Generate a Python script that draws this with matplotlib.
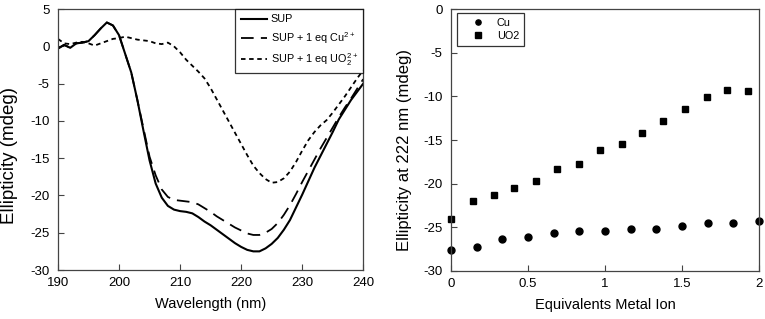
import matplotlib
matplotlib.use("Agg")
import matplotlib.pyplot as plt

plt.rcParams['font.family'] = ['Liberation Sans', 'DejaVu Sans']
plt.rcParams['mathtext.fontset'] = 'custom'
plt.rcParams['mathtext.rm'] = 'Liberation Sans'
plt.rcParams['axes.unicode_minus'] = False

# CD spectra (wavelength in nm, ellipticity in mdeg)
wl = [190, 191, 192, 193, 194, 195, 196, 197, 198, 199, 200, 201, 202, 203, 204,
      205, 206, 207, 208, 209, 210, 211, 212, 213, 214, 215, 216, 217, 218, 219,
      220, 221, 222, 223, 224, 225, 226, 227, 228, 229, 230, 231, 232, 233, 234,
      235, 236, 237, 238, 239, 240]
sup = [-0.3, 0.2, -0.2, 0.4, 0.5, 0.7, 1.5, 2.4, 3.2, 2.8, 1.5, -1.0, -3.5, -7.2, -11.3,
       -15.3, -18.4, -20.3, -21.4, -21.9, -22.1, -22.2, -22.4, -22.9, -23.5, -24.0, -24.6, -25.2, -25.8, -26.4,
       -26.9, -27.3, -27.5, -27.5, -27.1, -26.5, -25.7, -24.6, -23.3, -21.6, -19.9, -18.1, -16.3, -14.7, -13.1,
       -11.5, -9.8, -8.5, -7.2, -6.1, -5.0]
cu = [-0.3, 0.2, -0.2, 0.4, 0.5, 0.7, 1.5, 2.4, 3.2, 2.8, 1.5, -1.0, -3.5, -7.2, -11.0,
      -14.8, -17.3, -19.2, -20.2, -20.6, -20.7, -20.8, -20.9, -21.2, -21.7, -22.2, -22.8, -23.3, -23.8, -24.3,
      -24.7, -25.1, -25.3, -25.3, -25.0, -24.5, -23.7, -22.6, -21.3, -19.8, -18.2, -16.7, -15.2, -13.7, -12.3,
      -10.9, -9.5, -8.2, -7.0, -5.7, -4.4]
uo2 = [1.0, 0.4, 0.3, 0.5, 0.6, 0.4, 0.1, 0.4, 0.7, 1.0, 1.1, 1.3, 1.1, 0.9, 0.8,
       0.7, 0.4, 0.3, 0.5, 0.0, -0.8, -1.8, -2.6, -3.4, -4.3, -5.6, -7.1, -8.6, -10.1, -11.6,
       -13.1, -14.6, -16.0, -17.0, -17.8, -18.3, -18.2, -17.7, -16.8, -15.5, -14.0, -12.6, -11.5, -10.6, -9.9,
       -8.9, -7.8, -6.7, -5.5, -4.3, -3.2]

# titration at 222 nm
eq_cu = [0, 0.167, 0.333, 0.5, 0.667, 0.833, 1.0, 1.167, 1.333, 1.5, 1.667, 1.833, 2.0]
ell_cu = [-27.6, -27.2, -26.3, -26.1, -25.7, -25.4, -25.4, -25.2, -25.2, -24.9, -24.5, -24.5, -24.3]
eq_uo2 = [0, 0.14, 0.28, 0.41, 0.55, 0.69, 0.83, 0.97, 1.11, 1.24, 1.38, 1.52, 1.66, 1.79, 1.93]
ell_uo2 = [-24.1, -22.0, -21.3, -20.5, -19.7, -18.3, -17.7, -16.1, -15.5, -14.2, -12.8, -11.4, -10.1, -9.3, -9.4]

fig = plt.figure(figsize=(7.65, 3.19), dpi=100)
ax1 = fig.add_axes([0.0758, 0.1536, 0.399, 0.818])
ax2 = fig.add_axes([0.5895, 0.1505, 0.4026, 0.821])

frame_col = '#444444'
for ax in (ax1, ax2):
    for s in ax.spines.values():
        s.set_color(frame_col)
        s.set_linewidth(0.9)
    ax.tick_params(direction='in', length=4, width=0.8, color=frame_col,
                   labelsize=9.5)
    ax.tick_params(axis='y', pad=6)
    ax.tick_params(axis='x', pad=5)

ax1.plot(wl, sup, color='black', lw=1.5, label='SUP')
ax1.plot(wl, cu, color='black', lw=1.3, dashes=(7, 4), label='SUP + 1 eq Cu$^{2+}$')
ax1.plot(wl, uo2, color='black', lw=1.3, dashes=(2.5, 2), label='SUP + 1 eq UO$_2^{2+}$')
ax1.set_xlim(190, 240)
ax1.set_ylim(-30, 5)
ax1.set_xticks(range(190, 241, 10))
ax1.set_yticks(range(-30, 6, 5))
ax1.set_xlabel('Wavelength (nm)', fontsize=10.5)
ax1.set_ylabel('Ellipticity (mdeg)', fontsize=13.5)
ax1.xaxis.set_label_coords(0.5, -0.105)
ax1.yaxis.set_label_coords(-0.131, 0.437)
leg1 = ax1.legend(loc='upper right', fontsize=7.8, frameon=True, fancybox=False,
                  borderaxespad=0, handlelength=2.4, handletextpad=0.35,
                  borderpad=0.5, labelspacing=0.5)
leg1.get_frame().set_edgecolor('black')
leg1.get_frame().set_linewidth(0.9)

ax2.plot(eq_cu, ell_cu, 'o', color='black', ms=5, label='Cu', clip_on=False)
ax2.plot(eq_uo2, ell_uo2, 's', color='black', ms=5, label='UO2', clip_on=False)
ax2.set_xlim(0, 2)
ax2.set_ylim(-30, 0)
ax2.set_xticks([0, 0.5, 1, 1.5, 2])
ax2.set_xticklabels(['0', '0.5', '1', '1.5', '2'])
ax2.set_yticks(range(-30, 1, 5))
ax2.set_xlabel('Equivalents Metal Ion', fontsize=10.5)
ax2.set_ylabel('Ellipticity at 222 nm (mdeg)', fontsize=12)
ax2.xaxis.set_label_coords(0.5, -0.105)
ax2.yaxis.set_label_coords(-0.127, 0.462)
leg2 = ax2.legend(loc='upper left', fontsize=7.8, frameon=True, fancybox=False,
                  borderaxespad=0, handlelength=3.0, handletextpad=0.2,
                  borderpad=0.45, labelspacing=0.3, markerscale=0.75,
                  bbox_to_anchor=(0.02, 0.985))
leg2.get_frame().set_edgecolor('black')
leg2.get_frame().set_linewidth(0.9)

fig.savefig('out.png', dpi=100)
